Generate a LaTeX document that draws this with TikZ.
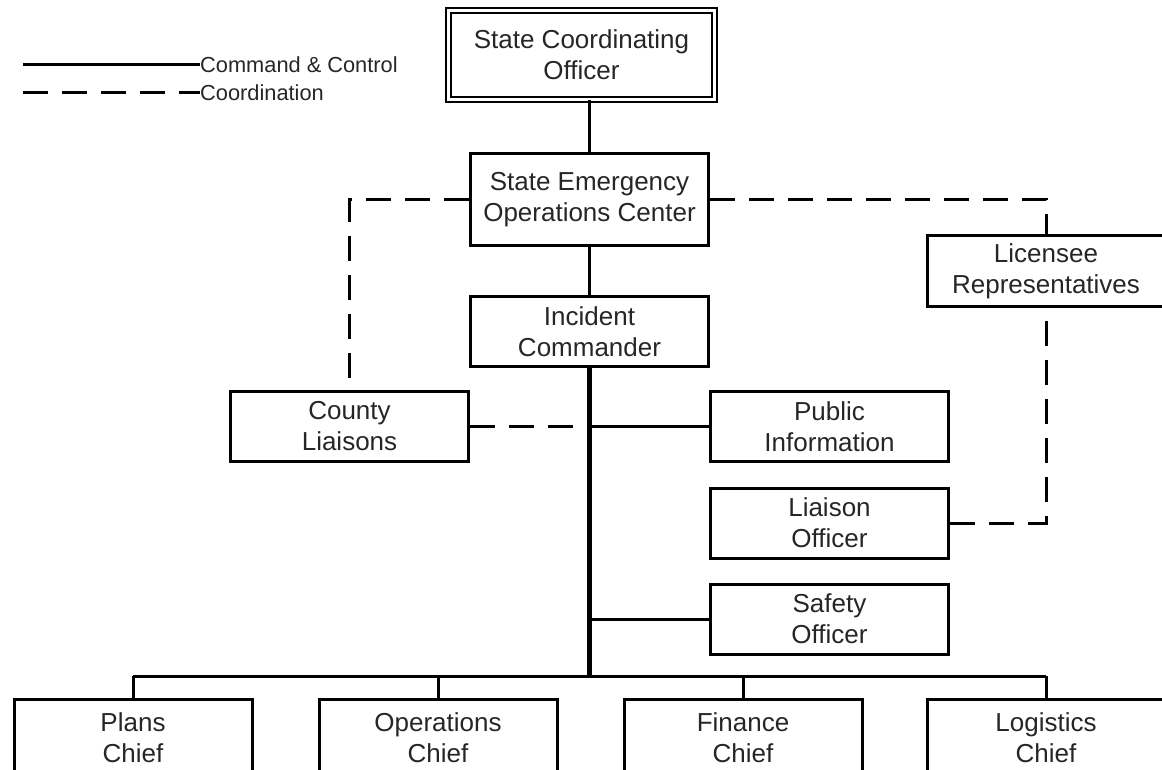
\documentclass[tikz,border=0pt]{standalone}
\usepackage{fontspec}
\setmainfont{Liberation Sans}
\usetikzlibrary{positioning}
\begin{document}
\begin{tikzpicture}[x=1pt,y=-1pt,
  box/.style={draw,line width=3pt,minimum width=238pt,minimum height=70pt,inner sep=0pt,align=center,text=black!85,font=\fontsize{26}{31}\selectfont},
  cmd/.style={line width=3pt},
  trunk/.style={line width=4.5pt},
  coord/.style={line width=3pt,dash pattern=on 25pt off 14pt},
  legend/.style={inner sep=0pt,text=black!85,font=\fontsize{21.8}{25}\selectfont}]
\useasboundingbox (0,0) rectangle (1162,770);
\clip (0,0) rectangle (1162,770);
% legend
\coordinate (l_1) at (23,65);
\coordinate (l_2) at (23,93);
\node[legend,anchor=west] (cmdtext) at (200,65) {Command \& Control};
\node[legend,anchor=west] (coordtext) at (200,93) {Coordination};
\draw[cmd] (l_1) -- (cmdtext.west);
\draw[coord] (l_2) -- (coordtext.west);
% boxes
\node[box,double,line width=2pt,double distance=3pt,minimum width=266pt,minimum height=89pt] (sco) at (581.5,55) {State Coordinating\\Officer};
\node[box,minimum height=92pt] (seoc) at (589.5,199.5) {State Emergency\\Operations Center};
\node[box] (ic) at (589.5,331.5) {Incident\\Commander};
\node[box] (county) at (349.5,426.5) {County\\Liaisons};
\node[box] (pubinfo) at (829.5,426.5) {Public\\Information};
\node[box] (liaison) at (829.5,523) {Liaison\\Officer};
\node[box] (safety) at (829.5,619) {Safety\\Officer};
\node[box] (licensee) at (1046,271) {Licensee\\Representatives};
\node[box,minimum height=76pt] (plans) at (133,737.5) {Plans\\Chief};
\node[box,minimum height=76pt] (ops) at (438,737.5) {Operations\\Chief};
\node[box,minimum height=76pt] (fin) at (743,737.5) {Finance\\Chief};
\node[box,minimum height=76pt] (log) at (1046,737.5) {Logistics\\Chief};
\coordinate (bus) at (589.5,676);
% command & control
\draw[cmd] (seoc.north) -- (seoc.north |- sco.south);
\draw[cmd] (seoc.south) -- (ic.north);
\draw[trunk] (ic.south) -- (bus);
\draw[cmd] (plans.north |- bus) -- (log.north |- bus);
\foreach \n in {plans,ops,fin,log}
  \draw[cmd] (\n.north) -- (\n.north |- bus);
\draw[cmd] (pubinfo.west) -- (pubinfo.west -| ic.south);
\draw[cmd] (safety.west) -- (safety.west -| ic.south);
% coordination
\draw[coord] (county.east) -- (county.east -| ic.south);
\draw[coord] (seoc.west) -- (seoc.west -| county.north) -- (county.north);
\draw[coord] (seoc.east) -- (seoc.east -| licensee.north) -- (licensee.north);
\draw[coord] (liaison.east) -- (liaison.east -| licensee.south) -- (licensee.south);
\end{tikzpicture}
\end{document}
